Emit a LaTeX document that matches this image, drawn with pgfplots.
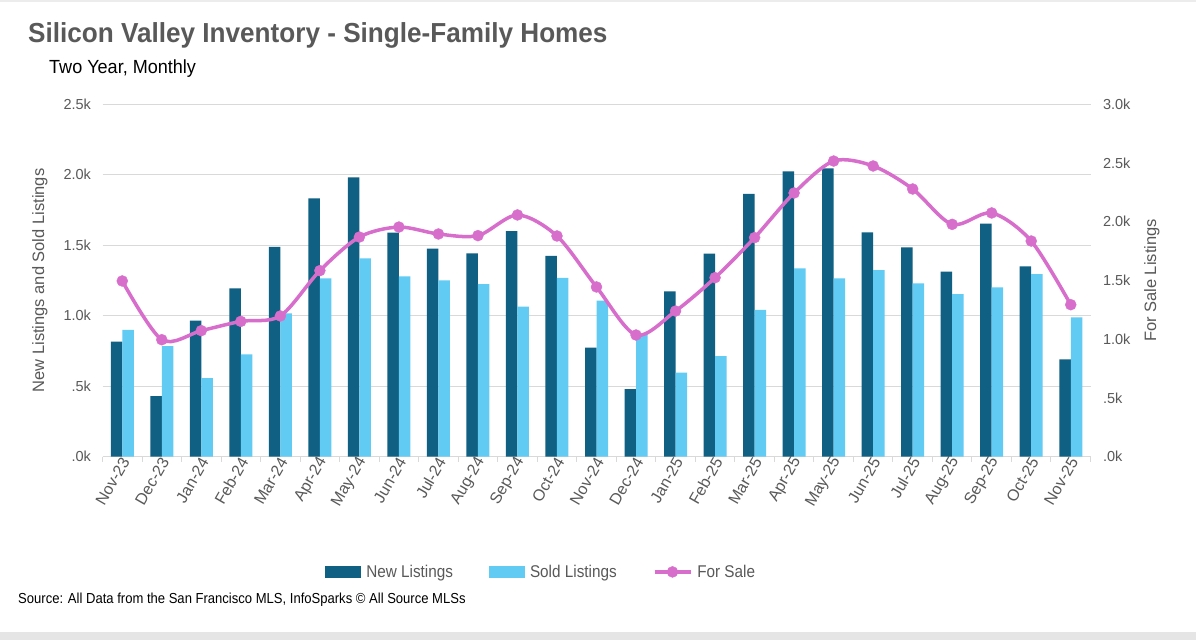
\documentclass[border=0pt]{standalone}
\usepackage{pgfplots}
\pgfplotsset{compat=1.18}
\usepackage{pgfplotstable}
\usepackage{fontspec}
\setmainfont{Liberation Sans}
\newfontfamily\titlefont[FakeStretch=0.95]{Liberation Sans}
\newfontfamily\narrowfont[FakeStretch=0.9]{Liberation Sans}

\definecolor{newcol}{HTML}{0F6082}
\definecolor{soldcol}{HTML}{61CBF3}
\definecolor{salecol}{HTML}{D86ECC}
\definecolor{txtgray}{HTML}{595959}
\definecolor{gridgray}{HTML}{D9D9D9}

% month index, new listings, sold listings, for sale
\pgfplotstableread{
idx new  sold sale
0   816  899  1496
1   430  785  996
2   965  558  1073
3   1194 726  1152
4   1488 1017 1198
5   1833 1265 1584
6   1982 1407 1870
7   1589 1279 1955
8   1476 1251 1896
9   1443 1225 1882
10  1601 1064 2058
11  1424 1268 1879
12  773  1107 1445
13  480  870  1036
14  1173 596  1240
15  1440 714  1524
16  1864 1041 1865
17  2024 1336 2245
18  2046 1265 2517
19  1592 1324 2475
20  1485 1230 2279
21  1313 1154 1978
22  1653 1201 2075
23  1350 1296 1836
24  691  989  1294
}\datatable

\pgfplotsset{
  barleg/.style={legend image code/.code={\fill[##1] (0pt,-6pt) rectangle (36pt,6pt);}},
  lineleg/.style={legend image code/.code={%
    \draw[##1,mark repeat=2,mark phase=2] plot coordinates {(0pt,0pt) (18pt,0pt) (36pt,0pt)};}},
}

\begin{document}
\begin{tikzpicture}[x=1pt,y=1pt]
\path[use as bounding box] (0,0) rectangle (1196,640);
\fill[white] (0,0) rectangle (1196,640);
\fill[gray!20] (0,0) rectangle (1196,8);
\fill[gray!15] (0,638) rectangle (1196,640);

% bars, left axis
\begin{axis}[
  at={(102.5pt,183.3pt)}, anchor=south west,
  scale only axis, width=988pt, height=352.4pt,
  xmin=-0.5, xmax=24.5, ymin=0, ymax=2500,
  ybar=0pt, bar width=11.5pt,
  axis x line*=bottom, axis y line*=left,
  y axis line style={draw=none},
  x axis line style={color=gridgray, line width=1pt},
  ytick={0,500,...,2500},
  yticklabels={.0k,.5k,1.0k,1.5k,2.0k,2.5k},
  ymajorgrids, major grid style={gridgray, line width=1pt},
  xtick={0,...,24},
  xticklabels={Nov-23,Dec-23,Jan-24,Feb-24,Mar-24,Apr-24,May-24,Jun-24,Jul-24,Aug-24,Sep-24,Oct-24,Nov-24,Dec-24,Jan-25,Feb-25,Mar-25,Apr-25,May-25,Jun-25,Jul-25,Aug-25,Sep-25,Oct-25,Nov-25},
  major tick length=0pt,
  minor xtick={-0.5,0.5,...,24.5},
  minor tick length=5pt, minor tick style={gridgray, line width=1pt},
  tick align=outside,
  yticklabel style={font=\fontsize{14.5}{17}\selectfont, text=txtgray, xshift=-8pt},
  xticklabel style={rotate=60, anchor=east, font=\fontsize{16}{19}\selectfont, text=txtgray, yshift=-4pt, xshift=3pt},
  ylabel={New Listings and Sold Listings},
  every axis y label/.style={at={(axis description cs:-0.0633,0.5)}, rotate=90, anchor=center,
    font=\fontsize{16.5}{19}\selectfont, text=txtgray},
  clip=false,
]
\addplot[fill=newcol, draw=none] table[x=idx, y=new] {\datatable};
\addplot[fill=soldcol, draw=none] table[x=idx, y=sold] {\datatable};
\end{axis}

% for sale line, right axis
\begin{axis}[
  at={(102.5pt,183.3pt)}, anchor=south west,
  scale only axis, width=988pt, height=352.4pt,
  xmin=-0.5, xmax=24.5, ymin=0, ymax=3000,
  axis y line*=right, axis x line=none,
  y axis line style={draw=none},
  ytick={0,500,...,3000},
  yticklabels={.0k,.5k,1.0k,1.5k,2.0k,2.5k,3.0k},
  major tick length=0pt,
  yticklabel style={font=\fontsize{14.5}{17}\selectfont, text=txtgray, xshift=9pt},
  ylabel={For Sale Listings},
  every axis y label/.style={at={(axis description cs:1.062,0.5)}, rotate=90, anchor=center,
    font=\fontsize{16.5}{19}\selectfont, text=txtgray},
  legend columns=3,
  legend style={at={(0.444,-0.327)}, anchor=center, draw=none, fill=none,
    font=\narrowfont\fontsize{17}{20}\selectfont, text=txtgray,
    /tikz/every odd column/.append style={column sep=3pt},
    /tikz/every even column/.append style={column sep=34pt}},
  clip=false,
]
\addlegendimage{barleg, fill=newcol, draw=none}
\addlegendentry{New Listings}
\addlegendimage{barleg, fill=soldcol, draw=none}
\addlegendentry{Sold Listings}
\addplot[salecol, line width=3.5pt, smooth, tension=0.5, mark=*, mark size=5.5pt,
  mark options={fill=salecol, draw=salecol, line width=0.4pt}, lineleg]
  table[x=idx, y=sale] {\datatable};
\addlegendentry{For Sale}
\end{axis}

\node[anchor=base west, inner sep=0, text=txtgray, font=\titlefont\bfseries\fontsize{27.5}{30}\selectfont]
  at (28,597) {Silicon Valley Inventory - Single-Family Homes};
\node[anchor=base west, inner sep=0, font=\titlefont\fontsize{19}{22}\selectfont]
  at (49,566) {Two Year, Monthly};
\node[anchor=base west, inner sep=0, font=\narrowfont\fontsize{14.5}{18}\selectfont]
  at (18,37) {Source: All Data from the San Francisco MLS, InfoSparks \textcopyright{} All Source MLSs};
\end{tikzpicture}
\end{document}
